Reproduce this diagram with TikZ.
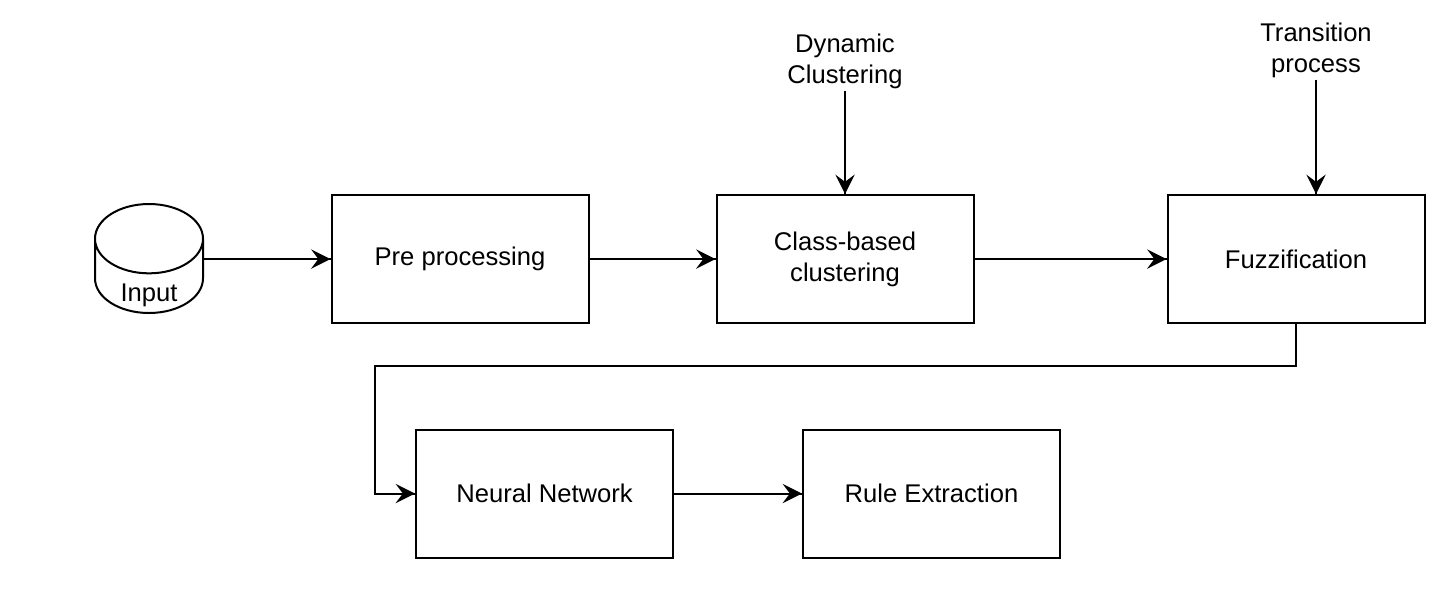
\documentclass[tikz,border=0pt]{standalone}
\usepackage{fontspec}
\setmainfont{Liberation Sans}
\usetikzlibrary{positioning, shapes.geometric, decorations.markings}

\begin{document}
\begin{tikzpicture}[%
		x=0.5pt, y=-0.5pt,
		node distance=63pt,
		font=\fontsize{12.8}{15.4}\selectfont,
		stage/.style={
			rectangle,
			minimum width=128.5pt,
			minimum height=64pt,
			line width=1pt,
			black,
			align=center,
			draw
		},
		database/.style={
			cylinder,
			shape border rotate=90,
			shape aspect=5.2,
			minimum width=54pt,
			minimum height=54.5pt,
			line width=1pt,
			black,
			draw
		},
		sidelabel/.style={
			align=center,
			inner sep=1pt
		},
		flowarrow/.style={
			line width=1pt,
			decoration={markings,mark=at position 1 with {\arrow[scale=2.1,>=stealth]{>}}},
			postaction={decorate}
		}]
	\useasboundingbox (0,0) rectangle (1450,602);

	% TOP ROW

	\node (inp) [database, anchor=north] at (149,203) {};
	\node (inptext) [yshift=9.5pt] at (inp.south) {Input};
	\node (pre) [stage] at (460,259) {Pre processing};
	\node (class) [stage, right=63pt of pre] {Class-based\\clustering};
	\node (fuzz) [stage, right=96pt of class] {Fuzzification};

	\node (dyn) [sidelabel] at (845,61) {Dynamic\\Clustering};
	\node (trans) [sidelabel] at (1316,50) {Transition\\process};

	% BOTTOM ROW

	\node (nn) [stage] at (544.5,493.5) {Neural Network};
	\node (rule) [stage, right=64pt of nn] {Rule Extraction};
	\coordinate (bend) at (375,366);

	% LINES

	\draw[flowarrow] (pre.west -| inp.east) -- (pre.west);
	\draw[flowarrow] (pre) -- (class);
	\draw[flowarrow] (class) -- (fuzz);
	\draw[flowarrow] (dyn) -- (class);
	\draw[flowarrow] (trans.south) -- (trans.south |- fuzz.north);
	\draw[flowarrow] (fuzz.south) |- (bend) |- (nn.west);
	\draw[flowarrow] (nn) -- (rule);
\end{tikzpicture}
\end{document}
